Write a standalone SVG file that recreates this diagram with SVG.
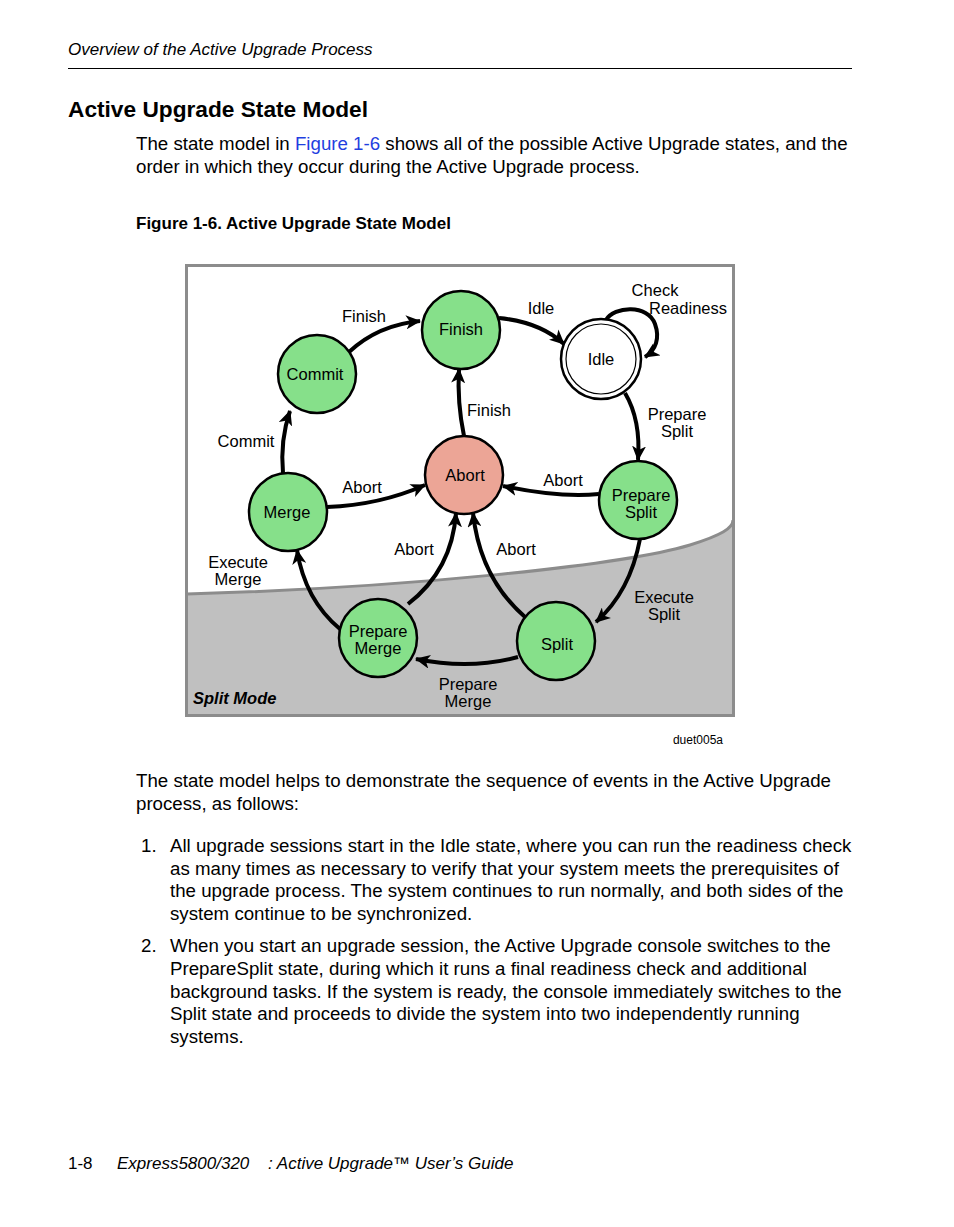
<svg xmlns="http://www.w3.org/2000/svg" width="954" height="1227" viewBox="0 0 954 1227">
<defs>
<marker id="ah" markerUnits="userSpaceOnUse" markerWidth="16" markerHeight="14" refX="14" refY="7" orient="auto">
<path d="M0,0 L15,7 L0,14 L4,7 z" fill="#000"/>
</marker>
<style>
.t{font-family:"Liberation Sans",Arial,sans-serif;fill:#000}
.b{font-size:18.7px}
.lab{font-size:16.5px;text-anchor:middle}
.st{fill:#86e08a;stroke:#000;stroke-width:2.5}
.ed{fill:none;stroke:#000;stroke-width:4;marker-end:url(#ah)}
</style>
</defs>
<rect width="954" height="1227" fill="#fff"/>
<text class="t" x="68" y="55" font-size="17" font-style="italic">Overview of the Active Upgrade Process</text>
<line x1="68" y1="68.5" x2="852" y2="68.5" stroke="#000" stroke-width="1.2"/>
<text class="t" x="68" y="117" font-size="22.7" font-weight="bold">Active Upgrade State Model</text>
<text class="t b" x="136" y="150">The state model in <tspan fill="#1f3fe0">Figure 1-6</tspan> shows all of the possible Active Upgrade states, and the</text>
<text class="t b" x="136" y="173">order in which they occur during the Active Upgrade process.</text>
<text class="t" x="136" y="229" font-size="17" font-weight="bold">Figure 1-6. Active Upgrade State Model</text>

<g id="frame">
<rect x="186.5" y="265.5" width="547" height="450" fill="#fff" stroke="#8c8c8c" stroke-width="3"/>
<path d="M187,594 C400,588 620,566 690,545 C722,535 733,528 733,520 L733,714 L187,714 Z" fill="#c0c0c0"/>
<path d="M187,594 C400,588 620,566 690,545 C722,535 733,528 733,520" fill="none" stroke="#8c8c8c" stroke-width="3"/>
<rect x="186.5" y="265.5" width="547" height="450" fill="none" stroke="#8c8c8c" stroke-width="3"/>
<text class="t" x="193" y="704" font-size="16.5" font-weight="bold" font-style="italic">Split Mode</text>
</g>

<g id="connectors">
<path class="ed" d="M349,352 Q378,325 420,321"/>
<path class="ed" d="M499,318 Q540,322 564,344"/>
<path class="ed" d="M606,320 C614,306 648,304 655,324 C660,338 656,350 645,357"/>
<path class="ed" d="M625,393 Q641,420 638,460"/>
<path class="ed" d="M599,494 Q560,498 503,486"/>
<path class="ed" d="M464,436 Q457,402 459,369"/>
<path class="ed" d="M327,507 Q380,505 425,485"/>
<path class="ed" d="M283,473 Q280,440 290,411"/>
<path class="ed" d="M340,629 Q305,600 297,550"/>
<path class="ed" d="M408,604 Q452,570 456,513"/>
<path class="ed" d="M525,617 Q480,578 473,513"/>
<path class="ed" d="M640,539 Q630,592 596,622"/>
<path class="ed" d="M518,657 Q470,670 416,659"/>
<text class="t lab" x="364" y="322">Finish</text>
<text class="t lab" x="541" y="314">Idle</text>
<text class="t lab" x="655" y="296">Check</text>
<text class="t lab" x="688" y="314">Readiness</text>
<text class="t lab" x="677" y="420">Prepare</text>
<text class="t lab" x="677" y="437">Split</text>
<text class="t lab" x="563" y="486">Abort</text>
<text class="t lab" x="489" y="416">Finish</text>
<text class="t lab" x="362" y="493">Abort</text>
<text class="t lab" x="246" y="447">Commit</text>
<text class="t lab" x="238" y="568">Execute</text>
<text class="t lab" x="238" y="585">Merge</text>
<text class="t lab" x="414" y="555">Abort</text>
<text class="t lab" x="516" y="555">Abort</text>
<text class="t lab" x="664" y="603">Execute</text>
<text class="t lab" x="664" y="620">Split</text>
<text class="t lab" x="468" y="690">Prepare</text>
<text class="t lab" x="468" y="707">Merge</text>
</g>

<g id="finish"><circle class="st" cx="461" cy="330" r="39"/><text class="t lab" x="461" y="335">Finish</text></g>
<g id="commit"><circle class="st" cx="317" cy="374" r="39"/><text class="t lab" x="315" y="380">Commit</text></g>
<g id="idle"><circle cx="601" cy="359" r="40" fill="#fff" stroke="#000" stroke-width="2.5"/><circle cx="601" cy="359" r="35" fill="#fff" stroke="#000" stroke-width="1.2"/><text class="t lab" x="601" y="365">Idle</text></g>
<g id="abort"><circle cx="464" cy="475" r="39" fill="#eca596" stroke="#000" stroke-width="2.5"/><text class="t lab" x="465" y="481">Abort</text></g>
<g id="prepare-split"><circle class="st" cx="638" cy="500" r="39"/><text class="t lab" x="641" y="501">Prepare</text><text class="t lab" x="641" y="518">Split</text></g>
<g id="merge"><circle class="st" cx="288" cy="512" r="39"/><text class="t lab" x="287" y="518">Merge</text></g>
<g id="prepare-merge"><circle class="st" cx="378" cy="638" r="39"/><text class="t lab" x="378" y="637">Prepare</text><text class="t lab" x="378" y="654">Merge</text></g>
<g id="split"><circle class="st" cx="556" cy="641" r="39"/><text class="t lab" x="557" y="650">Split</text></g>

<text class="t" x="723" y="744" font-size="12" text-anchor="end">duet005a</text>

<text class="t b" x="136" y="787">The state model helps to demonstrate the sequence of events in the Active Upgrade</text>
<text class="t b" x="136" y="810">process, as follows:</text>
<text class="t b" x="141" y="852">1.</text>
<text class="t b" x="170" y="852">All upgrade sessions start in the Idle state, where you can run the readiness check</text>
<text class="t b" x="170" y="875">as many times as necessary to verify that your system meets the prerequisites of</text>
<text class="t b" x="170" y="897">the upgrade process. The system continues to run normally, and both sides of the</text>
<text class="t b" x="170" y="920">system continue to be synchronized.</text>
<text class="t b" x="141" y="952">2.</text>
<text class="t b" x="170" y="952">When you start an upgrade session, the Active Upgrade console switches to the</text>
<text class="t b" x="170" y="975">PrepareSplit state, during which it runs a final readiness check and additional</text>
<text class="t b" x="170" y="998">background tasks. If the system is ready, the console immediately switches to the</text>
<text class="t b" x="170" y="1020">Split state and proceeds to divide the system into two independently running</text>
<text class="t b" x="170" y="1043">systems.</text>

<text class="t" x="68" y="1169" font-size="17">1-8</text>
<text class="t" x="117" y="1169" font-size="17" font-style="italic">Express5800/320</text>
<text class="t" x="268" y="1169" font-size="17" font-style="italic">: Active Upgrade™ User’s Guide</text>
</svg>
